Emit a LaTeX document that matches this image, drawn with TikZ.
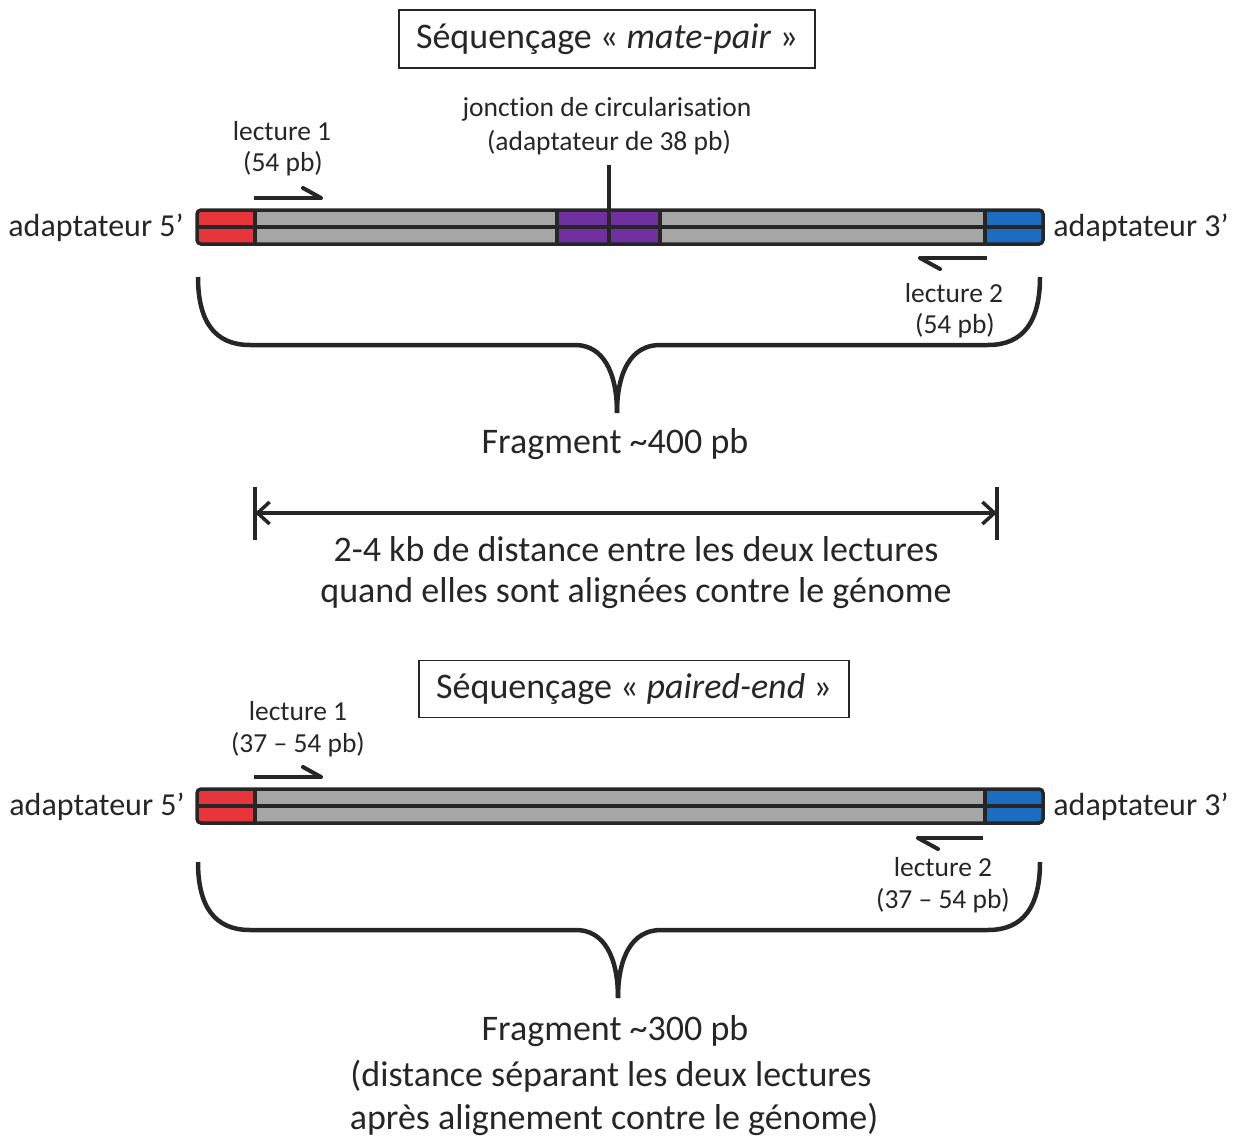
\documentclass[tikz,border=0pt]{standalone}
\usepackage{fontspec}
\setmainfont[Ligatures={NoCommon}]{Carlito}
\usetikzlibrary{arrows.meta}
\definecolor{ink}{HTML}{262626}
\definecolor{segred}{HTML}{E8353B}
\definecolor{seggray}{HTML}{A6A6A6}
\definecolor{segpurple}{HTML}{7030A0}
\definecolor{segblue}{HTML}{1C6DC1}
\tikzset{
  small/.style={font=\fontsize{27.5}{33}\selectfont, inner sep=0pt, text=ink},
  adapt/.style={font=\fontsize{32}{38}\selectfont, inner sep=0pt, text=ink},
  large/.style={font=\fontsize{36}{43}\selectfont, inner sep=0pt, text=ink},
  titlebox/.style={draw=ink, line width=1.3pt, minimum width=416pt, minimum height=58pt, inner sep=0pt, font=\fontsize{36}{43}\selectfont, text=ink},
  segline/.style={draw=ink, line width=3.5pt},
  halfarrow/.style={draw=ink, line width=4pt},
  bracestyle/.style={draw=ink, line width=4.5pt},
  dimline/.style={draw=ink, line width=3.5pt},
}
\begin{document}
\begin{tikzpicture}[x=1pt,y=-1pt]
\useasboundingbox (0,0) rectangle (1237,1137);

% ===== mate-pair =====
\node[titlebox] (t1) at (607,39) {\raisebox{-2pt}{Séquençage « \textit{mate-pair} »}};
\node[small] (junc1) at (607,109) {jonction de circularisation};
\node[small] (junc2) at (609,143) {(adaptateur de 38 pb)};
\node[small] (l1a) at (282,131) {lecture 1};
\node[small] (l1b) at (283,164) {(54 pb)};

% bar 1
\fill[segred] (197,210) rectangle (255,244);
\fill[seggray] (255,210) rectangle (557,244);
\fill[segpurple] (557,210) rectangle (660,244);
\fill[seggray] (660,210) rectangle (985,244);
\fill[segblue] (985,210) rectangle (1043,244);
\draw[segline, rounded corners=4pt] (197,210) rectangle (1043,244);
\draw[segline] (197,227) -- (1043,227);
\draw[segline] (255,210) -- (255,244);
\draw[segline] (557,210) -- (557,244);
\draw[segline] (660,210) -- (660,244);
\draw[segline] (985,210) -- (985,244);
\coordinate (jtop) at (609,165);
\coordinate (jbot) at (609,244);
\draw[segline] (jtop) -- (jbot);

\node[adapt] (ad5a) at (96,228) {adaptateur 5’};
\node[adapt] (ad3a) at (1141,228) {adaptateur 3’};

% read arrows 1
\coordinate (r1s) at (254,198);
\coordinate (r1e) at (321,198);
\coordinate (r1b) at (303,188);
\draw[halfarrow] (r1s) -- (r1e);
\draw[halfarrow, line cap=round] (r1e) -- (r1b);
\coordinate (r2s) at (987,258);
\coordinate (r2e) at (920,258);
\coordinate (r2b) at (940,269);
\draw[halfarrow] (r2s) -- (r2e);
\draw[halfarrow, line cap=round] (r2e) -- (r2b);

\node[small] (l2a) at (954,293) {lecture 2};
\node[small] (l2b) at (955,326) {(54 pb)};

% brace 1
\coordinate (b1l) at (198,277);
\coordinate (b1t) at (617,413);
\coordinate (b1r) at (1040,277);
\draw[bracestyle] (b1l) .. controls (198,322) and (215,345) .. (250,345) -- (575,345)
  .. controls (603,345) and (617,372) .. (b1t);
\draw[bracestyle] (b1t) .. controls (617,372) and (631,345) .. (660,345) -- (988,345)
  .. controls (1023,345) and (1040,322) .. (b1r);
\node[large] (frag1) at (615,444) {Fragment \textasciitilde400 pb};

% dimension
\coordinate (d1t) at (255,487);
\coordinate (d1b) at (255,540);
\coordinate (d2t) at (997,487);
\coordinate (d2b) at (997,540);
\coordinate (dl) at (255,513);
\coordinate (dr) at (997,513);
\draw[dimline] (d1t) -- (d1b);
\draw[dimline] (d2t) -- (d2b);
\draw[dimline, {Straight Barb[length=12pt,width=22pt,line width=3.5pt]}-{Straight Barb[length=12pt,width=22pt,line width=3.5pt]}] (dl) -- (dr);
\node[large] (dist1) at (636,549) {2-4 kb de distance entre les deux lectures};
\node[large] (dist2) at (636,593) {quand elles sont alignées contre le génome};

% ===== paired-end =====
\node[titlebox, minimum width=430pt, minimum height=57pt] (t2) at (634,689) {\raisebox{-2pt}{Séquençage « \textit{paired-end} »}};
\node[small] (p1a) at (298,711) {lecture 1};
\node[small] (p1b) at (298,745) {(37 – 54 pb)};

\fill[segred] (197,789) rectangle (255,823);
\fill[seggray] (255,789) rectangle (985,823);
\fill[segblue] (985,789) rectangle (1043,823);
\draw[segline, rounded corners=4pt] (197,789) rectangle (1043,823);
\draw[segline] (197,806) -- (1043,806);
\draw[segline] (255,789) -- (255,823);
\draw[segline] (985,789) -- (985,823);

\node[adapt] (ad5b) at (97,807) {adaptateur 5’};
\node[adapt] (ad3b) at (1141,807) {adaptateur 3’};

\coordinate (q1s) at (254,777);
\coordinate (q1e) at (321,777);
\coordinate (q1b) at (303,767);
\draw[halfarrow] (q1s) -- (q1e);
\draw[halfarrow, line cap=round] (q1e) -- (q1b);
\coordinate (q2s) at (983,838);
\coordinate (q2e) at (918,838);
\coordinate (q2b) at (938,849);
\draw[halfarrow] (q2s) -- (q2e);
\draw[halfarrow, line cap=round] (q2e) -- (q2b);

\node[small] (p2a) at (943,867) {lecture 2};
\node[small] (p2b) at (943,901) {(37 – 54 pb)};

\coordinate (b2l) at (198,862);
\coordinate (b2t) at (618,998);
\coordinate (b2r) at (1040,862);
\draw[bracestyle] (b2l) .. controls (198,907) and (215,930) .. (250,930) -- (576,930)
  .. controls (604,930) and (618,957) .. (b2t);
\draw[bracestyle] (b2t) .. controls (618,957) and (632,930) .. (661,930) -- (988,930)
  .. controls (1023,930) and (1040,907) .. (b2r);

\node[large] (frag2) at (615,1031) {Fragment \textasciitilde300 pb};
\node[large] (frag2b) at (611,1076) {(distance séparant les deux lectures};
\node[large] (frag2c) at (614,1119) {après alignement contre le génome)};
\end{tikzpicture}
\end{document}
